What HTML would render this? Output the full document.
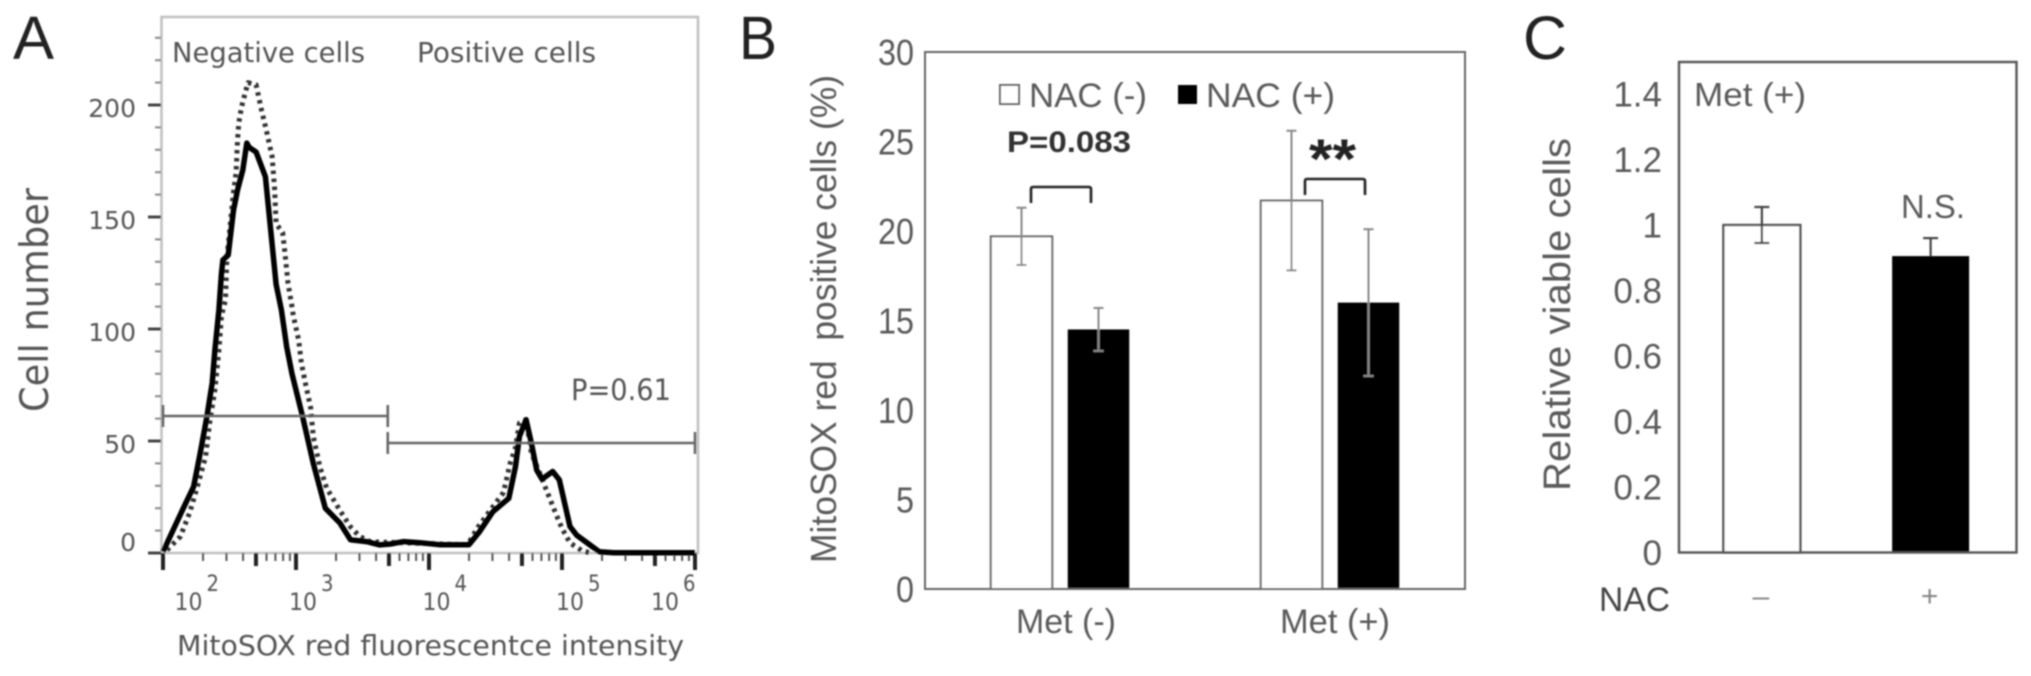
<!DOCTYPE html>
<html lang="en">
<head>
<meta charset="utf-8">
<title>MitoSOX red flow cytometry and viability panels</title>
<style>
html,body{margin:0;padding:0;background:#fff;width:2031px;height:676px;overflow:hidden}
svg{display:block}
text{font-family:"Liberation Sans",sans-serif;white-space:pre}
.dj{font-family:"DejaVu Sans",sans-serif;fill:#555}
.lb{fill:#5a5a5a}
</style>
</head>
<body>
<svg id="fig" xmlns="http://www.w3.org/2000/svg" width="2031" height="676" viewBox="0 0 2031 676">
<defs><filter id="soft" x="-2%" y="-2%" width="104%" height="104%"><feGaussianBlur stdDeviation="0.7"/></filter></defs>
<g id="root" filter="url(#soft)">
  <text x="13" y="59" font-size="61" fill="#222" textLength="41" lengthAdjust="spacingAndGlyphs">A</text>
  <text x="739" y="59" font-size="61" fill="#222" textLength="38" lengthAdjust="spacingAndGlyphs">B</text>
  <text x="1523" y="59" font-size="61" fill="#222" textLength="44" lengthAdjust="spacingAndGlyphs">C</text>

  <g id="panelA">
    <rect x="161.5" y="17" width="536.5" height="536" fill="none" stroke="#c2c2c2" stroke-width="2.6"/>
    <text class="dj" x="172" y="62" font-size="28" textLength="193" lengthAdjust="spacingAndGlyphs">Negative cells</text>
    <text class="dj" x="417" y="62" font-size="28" textLength="179" lengthAdjust="spacingAndGlyphs">Positive cells</text>
    <text class="dj" x="571" y="400" font-size="29" textLength="100" lengthAdjust="spacingAndGlyphs">P=0.61</text>
    <text class="dj" x="177" y="655" font-size="28" textLength="507" lengthAdjust="spacingAndGlyphs">MitoSOX red fluorescentce intensity</text>
    <text class="dj" transform="translate(48,412) rotate(-90)" font-size="39" textLength="224" lengthAdjust="spacingAndGlyphs">Cell number</text>
  </g>

  <g id="panelB">
    <text class="lb" transform="translate(836,563) rotate(-90)" font-size="36" textLength="488" lengthAdjust="spacingAndGlyphs">MitoSOX red  positive cells (%)</text>
    <rect x="1000" y="85" width="19" height="19" fill="#fff" stroke="#666" stroke-width="2"/>
    <text class="lb" x="1029" y="107" font-size="34" textLength="118" lengthAdjust="spacingAndGlyphs">NAC (-)</text>
    <rect x="1178" y="85" width="19" height="19" fill="#000"/>
    <text class="lb" x="1206" y="107" font-size="34" textLength="129" lengthAdjust="spacingAndGlyphs">NAC (+)</text>
    <text x="1007" y="152" font-size="30" font-weight="bold" fill="#333" textLength="124" lengthAdjust="spacingAndGlyphs">P=0.083</text>
    <text x="1309" y="178" font-size="56" font-weight="bold" fill="#222" textLength="47" lengthAdjust="spacingAndGlyphs">**</text>
    <path d="M1031 203V189Q1031 187 1033 187H1089Q1091 187 1091 189V203" fill="none" stroke="#222" stroke-width="2.6"/>
    <path d="M1305 195V181Q1305 179 1307 179H1363Q1365 179 1365 181V195" fill="none" stroke="#222" stroke-width="2.6"/>
  </g>

  <g id="panelC">
    <text class="lb" transform="translate(1570,491) rotate(-90)" font-size="38" textLength="353" lengthAdjust="spacingAndGlyphs">Relative viable cells</text>
    <text class="lb" x="1694" y="106" font-size="33" textLength="112" lengthAdjust="spacingAndGlyphs">Met (+)</text>
    <text class="lb" x="1901" y="218" font-size="33" textLength="64" lengthAdjust="spacingAndGlyphs">N.S.</text>
    <text x="1599" y="611" font-size="34" fill="#444" textLength="71" lengthAdjust="spacingAndGlyphs">NAC</text>
  </g>
</g>
</svg>
<script>
// ---------- Panel A data ----------
const yTicksA = [0, 50, 100, 150, 200];
const xExponents = [2, 3, 4, 5, 6];
const gateNegative = [2, 3.69];
const gatePositive = [3.69, 6];
const solidLog = [2.00,2.15,2.23,2.28,2.33,2.37,2.39,2.42,2.44,2.45,2.49,2.53,2.56,2.60,2.63,2.65,2.70,2.77,2.80,2.85,2.89,2.93,2.97,3.05,3.13,3.22,3.33,3.41,3.53,3.63,3.71,3.81,3.93,4.08,4.30,4.38,4.48,4.60,4.65,4.68,4.73,4.77,4.81,4.85,4.93,4.98,5.06,5.11,5.21,5.28,5.39,6.00];
const solidCount = [0.6,19.6,29.6,44.6,60.9,75.9,90.6,108.5,125,130.8,133,153,162,171,183,181,179,168,150,120,108.5,92,80,60.9,40,20,13.4,5.9,5.1,3.6,4,5.1,4.6,3.7,3.7,9.5,18.4,24.4,38.6,52,59.5,49,37,33,36.4,32.7,11.8,8,3.6,0.6,0.1,0.1];
const dottedLog = [2.03,2.13,2.20,2.25,2.32,2.35,2.39,2.42,2.44,2.47,2.48,2.53,2.55,2.56,2.57,2.59,2.62,2.64,2.70,2.74,2.78,2.82,2.84,2.85,2.90,2.92,2.94,2.97,2.98,3.02,3.04,3.07,3.11,3.13,3.18,3.23,3.33,3.41,3.48,3.56,4.29,4.37,4.46,4.56,4.61,4.65,4.68,4.73,4.77,4.83,4.89,4.95,5.00,5.06,5.15,5.21];
const dottedCount = [1.3,7.3,17.9,28,43,58,72.8,90.6,106,113,131,161,170,184,192,199,206,210,209,198,188,177,162,147,143,132,120.5,110,106,95,85,76,65,52,38.5,29,19,11.7,7.3,5,3.7,11.7,19,27,40,47,58,59.5,44.6,36,27,18,11,4.5,1,0.1];

// ---------- Panel B data ----------
const yTicksB = [0, 5, 10, 15, 20, 25, 30];
const groupsB = ["Met (-)", "Met (+)"];
const nacMinusB = [19.7, 21.7];
const nacPlusB = [14.5, 16.0];
const nacMinusErrB = [1.6, 3.9];
const nacPlusErrB = [1.2, 4.1];

// ---------- Panel C data ----------
const yTickLabelsC = ["0", "0.2", "0.4", "0.6", "0.8", "1", "1.2", "1.4"];
const categoriesC = ["–", "+"];
const valuesC = [1.0, 0.905];
const errorsC = [0.055, 0.055];

const NS = "http://www.w3.org/2000/svg";
function mk(tag, parent, attrs, txt) {
  const el = document.createElementNS(NS, tag);
  for (const k in attrs) el.setAttribute(k, attrs[k]);
  if (txt !== undefined) el.textContent = txt;
  parent.appendChild(el);
  return el;
}

// ---------- Panel A ----------
const pa = document.getElementById("panelA");
const xA = v => 163 + (v - 2) * 133;
const yA = v => 553 - v * 2.24;

for (let c = 0; c <= 230; c += 10) {
  const isMajor = yTicksA.includes(c);
  const t = mk("line", pa, {x1:isMajor?148:155,x2:161,y1:yA(c),y2:yA(c),stroke:isMajor?"#444":"#888","stroke-width":isMajor?3:2});
  
  
}
yTicksA.forEach(v => {
  const t = mk("text", pa, {x:136,y:yA(v)+(v===0?-2:12),"text-anchor":"end","font-size":25,class:"dj"}, String(v));
  
  
});
for (let d = 2; d < 6; d++) {
  for (let m = 1; m < 10; m++) {
    const p = d + Math.log10(m);
    const h = m === 1 ? 17 : (m === 5 ? 13 : 8);
    const w = m === 1 || m === 5 ? 4 : 2;
    const t = mk("line", pa, {x1:xA(p),x2:xA(p),y1:553,y2:553+h,stroke:m===1||m===5?"#222":"#555","stroke-width":w});
    
    
  }
}
const lastTick = mk("line", pa, {x1:xA(6),x2:xA(6),y1:553,y2:570,stroke:"#222","stroke-width":4});



xExponents.forEach((e, i) => {
  const nudge = [11.5, -7, -6.5, -6, -44][i];
  const base = mk("text", pa, {x:xA(e)+nudge,y:610,"font-size":24,class:"dj",textLength:28,lengthAdjust:"spacingAndGlyphs"}, "10");
  
  
  const sup = mk("text", pa, {x:xA(e)+nudge+32,y:591,"font-size":22,class:"dj",textLength:12.5,lengthAdjust:"spacingAndGlyphs"}, String(e));
  
  
});

function pathFrom(xs, ys) {
  return xs.map((x, i) => (i ? "L" : "M") + xA(x).toFixed(1) + " " + yA(ys[i]).toFixed(1)).join("");
}
const dotted = mk("path", pa, {d:pathFrom(dottedLog,dottedCount),fill:"none",stroke:"#333","stroke-width":5,"stroke-dasharray":"3.5 4.5","stroke-linejoin":"round"});


const solid = mk("path", pa, {d:pathFrom(solidLog,solidCount),fill:"none",stroke:"#000","stroke-width":5.5,"stroke-linejoin":"round"});



function gate(parent, range, y, name) {
  const g = mk("g", parent, {stroke:"#666","stroke-width":2.6});
  
  
  const a = Math.max(xA(range[0]), 162), b = Math.min(xA(range[1]), 698);
  mk("line", g, {x1:a,x2:b,y1:y,y2:y});
  mk("line", g, {x1:a,x2:a,y1:y-11,y2:y+11});
  mk("line", g, {x1:b,x2:b,y1:y-11,y2:y+11});
}
gate(pa, gateNegative, 416, "negative-gate");
gate(pa, gatePositive, 443, "positive-gate");

// ---------- Panel B ----------
const pb = document.getElementById("panelB");
const L_B = 925, R_B = 1465;
const yB = v => 589 - v * 17.9;
const groupX = i => L_B + (R_B - L_B) / groupsB.length * (i + 0.5);

yTicksB.forEach(v => {
  const s = String(v);
  const t = mk("text", pb, {x:914,y:yB(v)+13,"text-anchor":"end","font-size":36,class:"lb",textLength:s.length*18,lengthAdjust:"spacingAndGlyphs"}, s);
  
  
});
function errBar(parent, cx, top, bot, capW, color, w, name) {
  const g = mk("g", parent, {stroke:color,"stroke-width":w});
  
  
  mk("line", g, {x1:cx,x2:cx,y1:top,y2:bot});
  mk("line", g, {x1:cx-capW,x2:cx+capW,y1:top,y2:top});
  mk("line", g, {x1:cx-capW,x2:cx+capW,y1:bot,y2:bot});
}
groupsB.forEach((g, i) => {
  const c = groupX(i);
  const x1 = c - 38.5, x2 = c + 38.5;
  const b1 = mk("rect", pb, {x:x1-30.75,y:yB(nacMinusB[i]),width:61.5,height:589-yB(nacMinusB[i]),fill:"#fff",stroke:"#666","stroke-width":2});
  
  
  const b2 = mk("rect", pb, {x:x2-30.75,y:yB(nacPlusB[i]),width:61.5,height:589-yB(nacPlusB[i]),fill:"#000"});
  
  
  errBar(pb, x1, yB(nacMinusB[i]+nacMinusErrB[i]), yB(nacMinusB[i]-nacMinusErrB[i]), 5, "#888", 2, "error-bar-nac-minus");
  errBar(pb, x2, yB(nacPlusB[i]+nacPlusErrB[i]), yB(nacPlusB[i]-nacPlusErrB[i]), 5, "#888", 2, "error-bar-nac-plus");
  const t = mk("text", pb, {x:c+[6,5][i],y:633,"text-anchor":"middle","font-size":34,class:"lb",textLength:[100,110][i],lengthAdjust:"spacingAndGlyphs"}, g);
  
  
});
const frameB = mk("rect", pb, {x:L_B,y:52,width:R_B-L_B,height:537,fill:"none",stroke:"#666","stroke-width":2});



// ---------- Panel C ----------
const pc = document.getElementById("panelC");
const L_C = 1679, R_C = 2016.5;
const yC = v => 552.5 - v * 327.5;
const catX = i => L_C + (R_C - L_C) / categoriesC.length * (i + 0.5);

yTickLabelsC.forEach(s => {
  const t = mk("text", pc, {x:1662,y:yC(parseFloat(s))+12.5,"text-anchor":"end","font-size":35,class:"lb"}, s);
  
  
});
categoriesC.forEach((cat, i) => {
  const c = catX(i) - 1.5;
  const isOpen = i === 0;
  const err = () => errBar(pc, c, yC(valuesC[i]+errorsC[i]), yC(valuesC[i]-errorsC[i]), 7.5, "#444", 2.2, "viability-error-bar");
  if (!isOpen) err();
  const b = mk("rect", pc, {x:c-38.5,y:yC(valuesC[i]),width:77,height:552.5-yC(valuesC[i]),fill:isOpen?"#fff":"#000",stroke:isOpen?"#555":"#000","stroke-width":isOpen?2.4:0});
  
  
  if (isOpen) err();
  const t = mk("text", pc, {x:c-1,y:606,"text-anchor":"middle","font-size":30,fill:"#888"}, cat);
  
  
});
const frameC = mk("rect", pc, {x:L_C,y:62,width:R_C-L_C,height:490.5,fill:"none",stroke:"#555","stroke-width":2.4});


</script>
</body>
</html>
